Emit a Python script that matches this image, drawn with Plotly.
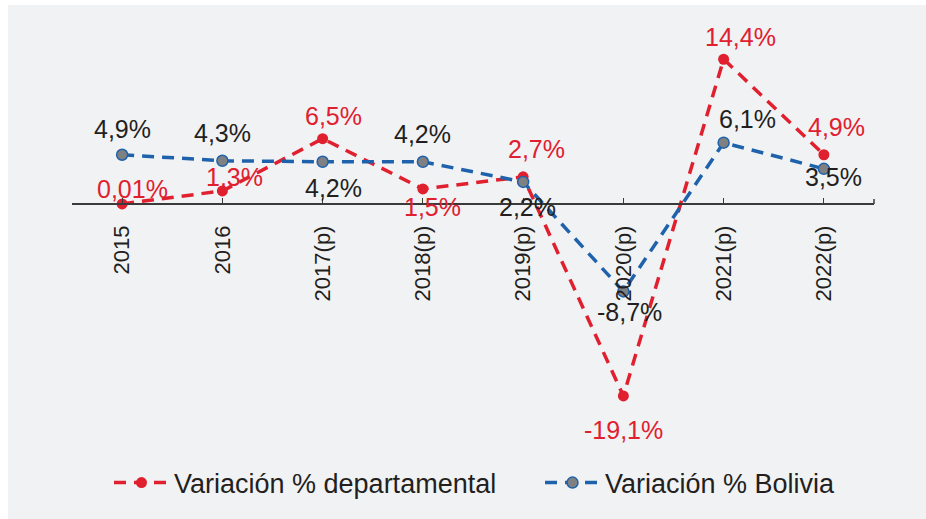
import plotly.graph_objects as go

RED = "#E0202E"
BLUE = "#1F62AC"
GRAY = "#7F8082"
TEXT = "#231F20"
BG = "#F1F2F4"
FONT = "Arial, 'Liberation Sans', sans-serif"

years = ["2015", "2016", "2017(p)", "2018(p)", "2019(p)", "2020(p)", "2021(p)", "2022(p)"]
dep_values = [0.01, 1.3, 6.5, 1.5, 2.7, -19.1, 14.4, 4.9]
dep_labels = ["0,01%", "1,3%", "6,5%", "1,5%", "2,7%", "-19,1%", "14,4%", "4,9%"]
bol_values = [4.9, 4.3, 4.2, 4.2, 2.2, -8.7, 6.1, 3.5]
bol_labels = ["4,9%", "4,3%", "4,2%", "4,2%", "2,2%", "-8,7%", "6,1%", "3,5%"]

# label offsets in px (x, y) relative to each point
dep_shift = [(10, 15), (12, 14), (11, 23), (10, -18), (13, 28), (0, -34), (17, 22), (13, 28)]
bol_shift = [(0, 26), (0, 28), (11, -26), (0, 28), (4, -25), (6, -21), (24, 24), (10, -8)]

Y_MIN, Y_MAX = -23.48, 19.3
PLOT_W = 802

fig = go.Figure()
fig.add_trace(go.Scatter(
    x=years, y=dep_values, mode="lines+markers", name="Variación % departamental",
    line=dict(color=RED, width=3.5, dash="12px,8px"),
    marker=dict(size=11, color=RED), legend="legend",
))
fig.add_trace(go.Scatter(
    x=years, y=bol_values, mode="lines+markers", name="Variación % Bolivia",
    line=dict(color=BLUE, width=3.5, dash="12px,8px"),
    marker=dict(size=11, color=GRAY, line=dict(color=BLUE, width=1.5)), legend="legend2",
))

# category index used for x so numeric-looking labels ("2015") are not read as numbers
for i, (v, lab, (dx, dy)) in enumerate(zip(dep_values, dep_labels, dep_shift)):
    fig.add_annotation(x=i, y=v, text=lab, showarrow=False, xshift=dx, yshift=dy,
                       font=dict(size=25, color=RED, family=FONT))
for i, (v, lab, (dx, dy)) in enumerate(zip(bol_values, bol_labels, bol_shift)):
    fig.add_annotation(x=i, y=v, text=lab, showarrow=False, xshift=dx, yshift=dy,
                       font=dict(size=25, color=TEXT, family=FONT))

# white frame strips of the original slide
fig.add_shape(type="rect", xref="paper", yref="paper", x0=-0.1, x1=1.1,
              y0=1 + 5 / 430, y1=1.05, fillcolor="white", line_width=0, layer="below")
fig.add_shape(type="rect", xref="paper", yref="paper", x0=-0.1, x1=-64 / PLOT_W,
              y0=-0.3, y1=1.05, fillcolor="white", line_width=0, layer="below")
# closing tick at the right end of the axis
fig.add_shape(type="line", xref="paper", yref="y", x0=1, x1=1, y0=0, y1=0.5,
              line=dict(color="#3A3A3A", width=1.5))

leg = dict(orientation="h", y=-0.1, yanchor="middle", xanchor="left",
           font=dict(size=27, color=TEXT), itemwidth=55, bgcolor="rgba(0,0,0,0)")

fig.update_layout(
    width=926, height=519,
    margin=dict(l=72, r=52, t=10, b=79),
    paper_bgcolor=BG, plot_bgcolor=BG,
    font=dict(family=FONT, color=TEXT, size=22),
    showlegend=True,
    legend=dict(leg, x=(109 - 72) / PLOT_W),
    legend2=dict(leg, x=(540 - 72) / PLOT_W),
    xaxis=dict(
        type="category", range=[-0.5, 7.5], anchor="free",
        position=-Y_MIN / (Y_MAX - Y_MIN),
        showline=True, linecolor="#3A3A3A", linewidth=1.5,
        ticks="inside", ticklen=5, tickcolor="#3A3A3A",
        tickangle=-90, tickfont=dict(size=22, color=TEXT),
        ticklabelstandoff=12, showgrid=False, zeroline=False,
    ),
    yaxis=dict(range=[Y_MIN, Y_MAX], visible=False, showgrid=False, zeroline=False),
)

fig.write_html(
    "out.html",
    config={"displayModeBar": False},
    post_script="document.body.style.margin='0';document.body.style.overflow='hidden';",
)
